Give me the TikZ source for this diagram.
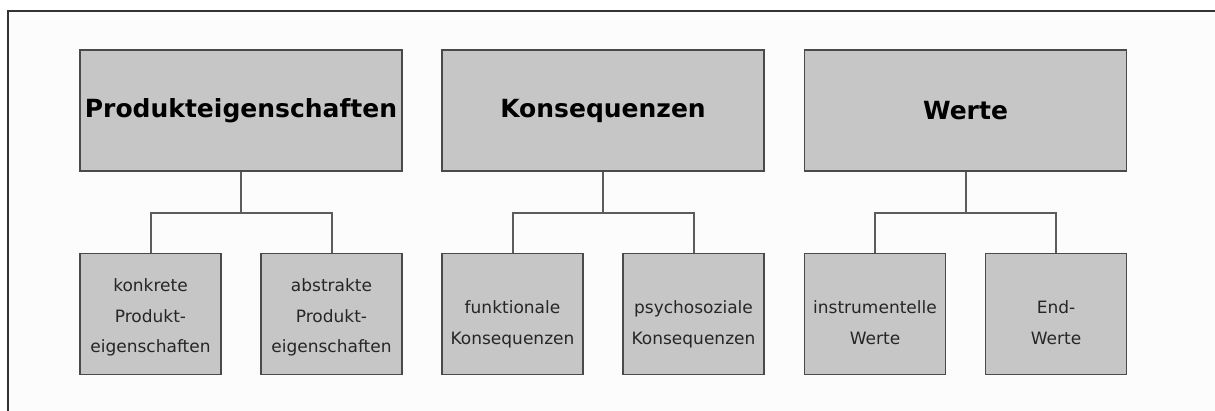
\documentclass[tikz,border=0pt]{standalone}
\usepackage{fontspec}
\setmainfont{DejaVu Sans}
\usetikzlibrary{calc}
\definecolor{framecol}{HTML}{333333}
\definecolor{pagebg}{HTML}{FCFCFC}
\definecolor{boxfill}{HTML}{C6C6C6}
\definecolor{boxline}{HTML}{4A4A4A}
\definecolor{linkcol}{HTML}{5C5C5C}
\definecolor{txtcol}{HTML}{262626}
% invisible strut that sets the height of a first text line
\newcommand{\leadgap}[1]{\rule{0pt}{#1pt}}
\begin{document}
\begin{tikzpicture}[x=1pt,y=-1pt,
  headbox/.style={draw=boxline, line width=1.6pt, fill=boxfill, inner sep=0pt,
    minimum width=322pt, minimum height=121pt,
    font=\fontsize{25}{30}\selectfont\bfseries, text=black},
  subbox/.style={draw=boxline, line width=1.6pt, fill=boxfill, inner sep=0pt,
    minimum width=141pt, minimum height=121pt, align=center,
    font=\fontsize{17}{30.5}\selectfont, text=txtcol},
  link/.style={draw=linkcol, line width=2pt}]
\useasboundingbox (0,0) rectangle (1215,410);
\clip (0,0) rectangle (1215,410);
% outer frame, open to the right and bottom
\fill[pagebg] (8,11) rectangle (1220,415);
\draw[framecol, line width=2.2pt] (8,415) -- (8,11) -- (1220,11);

% top-level categories
\node[headbox] (p) at (241,110.5) {Produkteigenschaften};
\node[headbox] (k) at (603,110.5) {Konsequenzen};
\node[headbox] (w) at (965.5,110.5) {Werte};

% subcategories
\node[subbox] (p1) at (150.5,314) {\leadgap{20}konkrete\\Produkt-\\eigenschaften};
\node[subbox] (p2) at (331.5,314) {\leadgap{20}abstrakte\\Produkt-\\eigenschaften};
\node[subbox] (k1) at (512.5,314) {\leadgap{34}funktionale\\Konsequenzen};
\node[subbox] (k2) at (693.5,314) {\leadgap{34}psychosoziale\\Konsequenzen};
\node[subbox] (w1) at (875,314) {\leadgap{30}instrumentelle\\Werte};
\node[subbox] (w2) at (1056,314) {\leadgap{30}End-\\Werte};

% junction points of the tree connectors
\path (p.south) ++(0,41) coordinate (pj);
\path (k.south) ++(0,41) coordinate (kj);
\path (w.south) ++(0,41) coordinate (wj);

\draw[link] (p.south) -- (pj);
\draw[link] (p1.north) |- (pj) -| (p2.north);
\draw[link] (k.south) -- (kj);
\draw[link] (k1.north) |- (kj) -| (k2.north);
\draw[link] (w.south) -- (wj);
\draw[link] (w1.north) |- (wj) -| (w2.north);
\end{tikzpicture}
\end{document}
